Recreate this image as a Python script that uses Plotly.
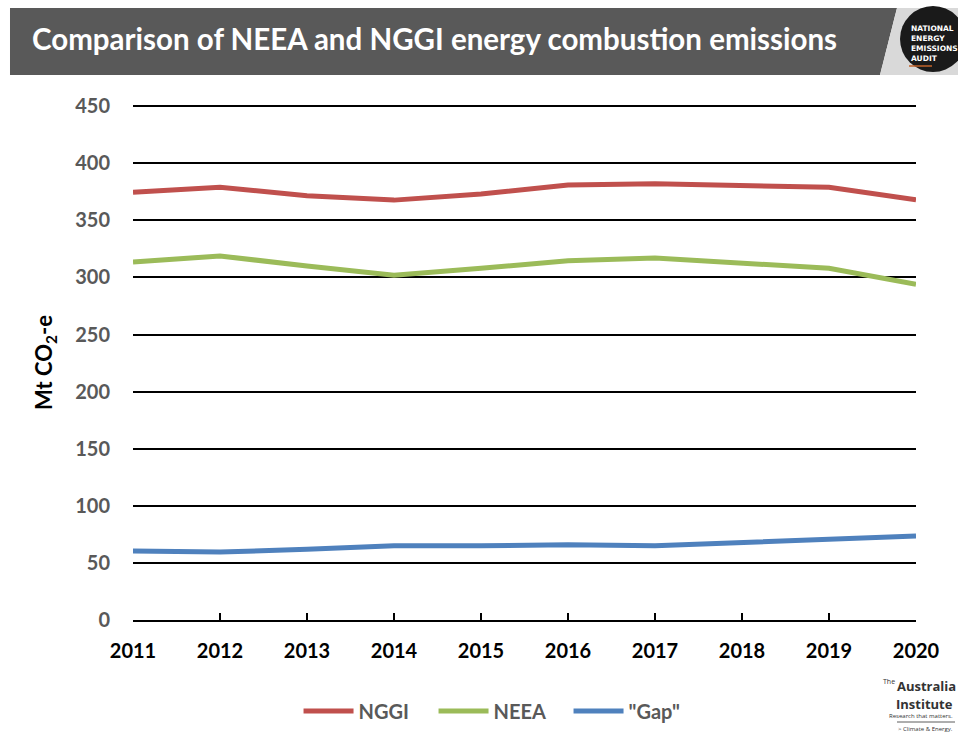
import plotly.graph_objects as go

# Annual energy combustion emissions, Mt CO2-e
years = [2011, 2012, 2013, 2014, 2015, 2016, 2017, 2018, 2019, 2020]
nggi = [374.7, 379.0, 371.5, 367.7, 373.0, 381.0, 382.0, 380.0, 379.0, 368.0]
neea = [313.5, 318.8, 310.0, 302.0, 308.0, 314.5, 317.0, 312.5, 308.0, 294.0]
gap = [60.5, 59.5, 62.0, 65.0, 65.0, 66.0, 65.0, 67.5, 70.5, 73.5]
y_ticks = list(range(0, 451, 50))

series = [
    ("NGGI", nggi, "#C0504D"),
    ("NEEA", neea, "#9BBB59"),
    ('"Gap"', gap, "#4F81BD"),
]

FONT = "Lato"
W, H = 958, 736
L, R, T, B = 133, 42, 105, 116
pw, ph = W - L - R, H - T - B

fig = go.Figure()
for name, vals, color in series:
    fig.add_trace(go.Scatter(
        x=years, y=vals, name=name, mode="lines",
        line=dict(color=color, width=5),
    ))

fig.update_layout(
    width=W, height=H,
    margin=dict(l=L, r=R, t=T, b=B, autoexpand=False),
    paper_bgcolor="white", plot_bgcolor="white",
    font=dict(family=FONT),
    showlegend=True,
    legend=dict(
        orientation="h", x=0.523, xanchor="center",
        xref="container", yref="container", y=1 - 711 / H, yanchor="middle",
        font=dict(family=FONT, size=20, color="#595959", weight="bold"),
        itemwidth=50, tracegroupgap=0,
        entrywidth=70, entrywidthmode="pixels",
    ),
    xaxis=dict(
        range=[2011, 2020], tickmode="array", tickvals=years,
        ticktext=[str(y) for y in years],
        showgrid=False, zeroline=False,
        showline=True, linecolor="black", linewidth=2,
        ticks="inside", ticklen=7, tickwidth=1.5, tickcolor="black",
        ticklabelstandoff=12,
        tickfont=dict(family=FONT, size=20, color="black", weight="bold"),
    ),
    yaxis=dict(
        range=[0, 451], tickmode="array", tickvals=y_ticks,
        showgrid=True, gridcolor="black", gridwidth=1.5,
        zeroline=False, showline=False, ticks="",
        ticklabelstandoff=22,
        tickfont=dict(family=FONT, size=20, color="#595959", weight="bold"),
        title=dict(text="Mt CO<sub>2</sub>-e", standoff=16,
                   font=dict(family=FONT, size=22, color="black", weight="bold")),
    ),
)


def px(x, y):
    """Pixel position on the page -> paper coordinates."""
    return (x - L) / pw, (H - B - y) / ph


def path(points):
    s = ""
    for i, (x, y) in enumerate(points):
        u, v = px(x, y)
        s += ("M " if i == 0 else " L ") + f"{u:.5f} {v:.5f}"
    return s + " Z"


# Header banner
fig.add_shape(type="path", xref="paper", yref="paper",
              path=path([(10, 8), (897, 8), (880, 75), (10, 75)]),
              fillcolor="#595959", line_width=0, layer="below")
fig.add_shape(type="path", xref="paper", yref="paper",
              path=path([(897, 8), (958, 8), (958, 75), (880, 75)]),
              fillcolor="#D9D9D9", line_width=0, layer="below")
cx0, cy0 = px(900, 6)
cx1, cy1 = px(966, 72)
fig.add_shape(type="circle", xref="paper", yref="paper",
              x0=cx0, y0=cy1, x1=cx1, y1=cy0,
              fillcolor="#1A1A1A", line_width=0)
ux0, uy = px(909, 66)
ux1, _ = px(932, 66)
fig.add_shape(type="line", xref="paper", yref="paper",
              x0=ux0, x1=ux1, y0=uy, y1=uy,
              line=dict(color="#C0632B", width=1.5))

tx, ty = px(30, 39)
fig.add_annotation(xref="paper", yref="paper", x=tx, y=ty,
                   xanchor="left", yanchor="middle", showarrow=False,
                   text="Comparison of NEEA and NGGI energy combustion emissions",
                   font=dict(family=FONT, size=29.5, color="white", weight="bold"))

for i, word in enumerate(["NATIONAL", "ENERGY", "EMISSIONS", "AUDIT"]):
    lx, ly = px(909, 29 + i * 10)
    fig.add_annotation(xref="paper", yref="paper", x=lx, y=ly,
                       xanchor="left", yanchor="middle", showarrow=False,
                       text=word,
                       font=dict(family="DejaVu Sans", size=7.5, color="white",
                                 weight="bold"))

# Institute mark
INK = "#333333"
ax, ay = px(897, 681)
fig.add_annotation(xref="paper", yref="paper", x=ax, y=ay,
                   xanchor="right", yanchor="middle", showarrow=False,
                   text="The", font=dict(family="Open Sans", size=7, color=INK))
ax, ay = px(958, 686)
fig.add_annotation(xref="paper", yref="paper", x=ax, y=ay,
                   xanchor="right", yanchor="middle", showarrow=False,
                   text="Australia",
                   font=dict(family="Open Sans", size=13, color=INK, weight="bold"))
ax, ay = px(955, 704)
fig.add_annotation(xref="paper", yref="paper", x=ax, y=ay,
                   xanchor="right", yanchor="middle", showarrow=False,
                   text="Institute",
                   font=dict(family="Open Sans", size=13, color=INK, weight="bold"))
ax, ay = px(955, 716)
fig.add_annotation(xref="paper", yref="paper", x=ax, y=ay,
                   xanchor="right", yanchor="middle", showarrow=False,
                   text="Research that matters.",
                   font=dict(family="Open Sans", size=6, color=INK))
lx0, ly = px(897, 722)
lx1, _ = px(955, 722)
fig.add_shape(type="line", xref="paper", yref="paper",
              x0=lx0, x1=lx1, y0=ly, y1=ly,
              line=dict(color=INK, width=0.8))
ax, ay = px(955, 729)
fig.add_annotation(xref="paper", yref="paper", x=ax, y=ay,
                   xanchor="right", yanchor="middle", showarrow=False,
                   text="&gt; Climate &amp; Energy.",
                   font=dict(family="Open Sans", size=6, color=INK))

fig.write_html("out.html")
